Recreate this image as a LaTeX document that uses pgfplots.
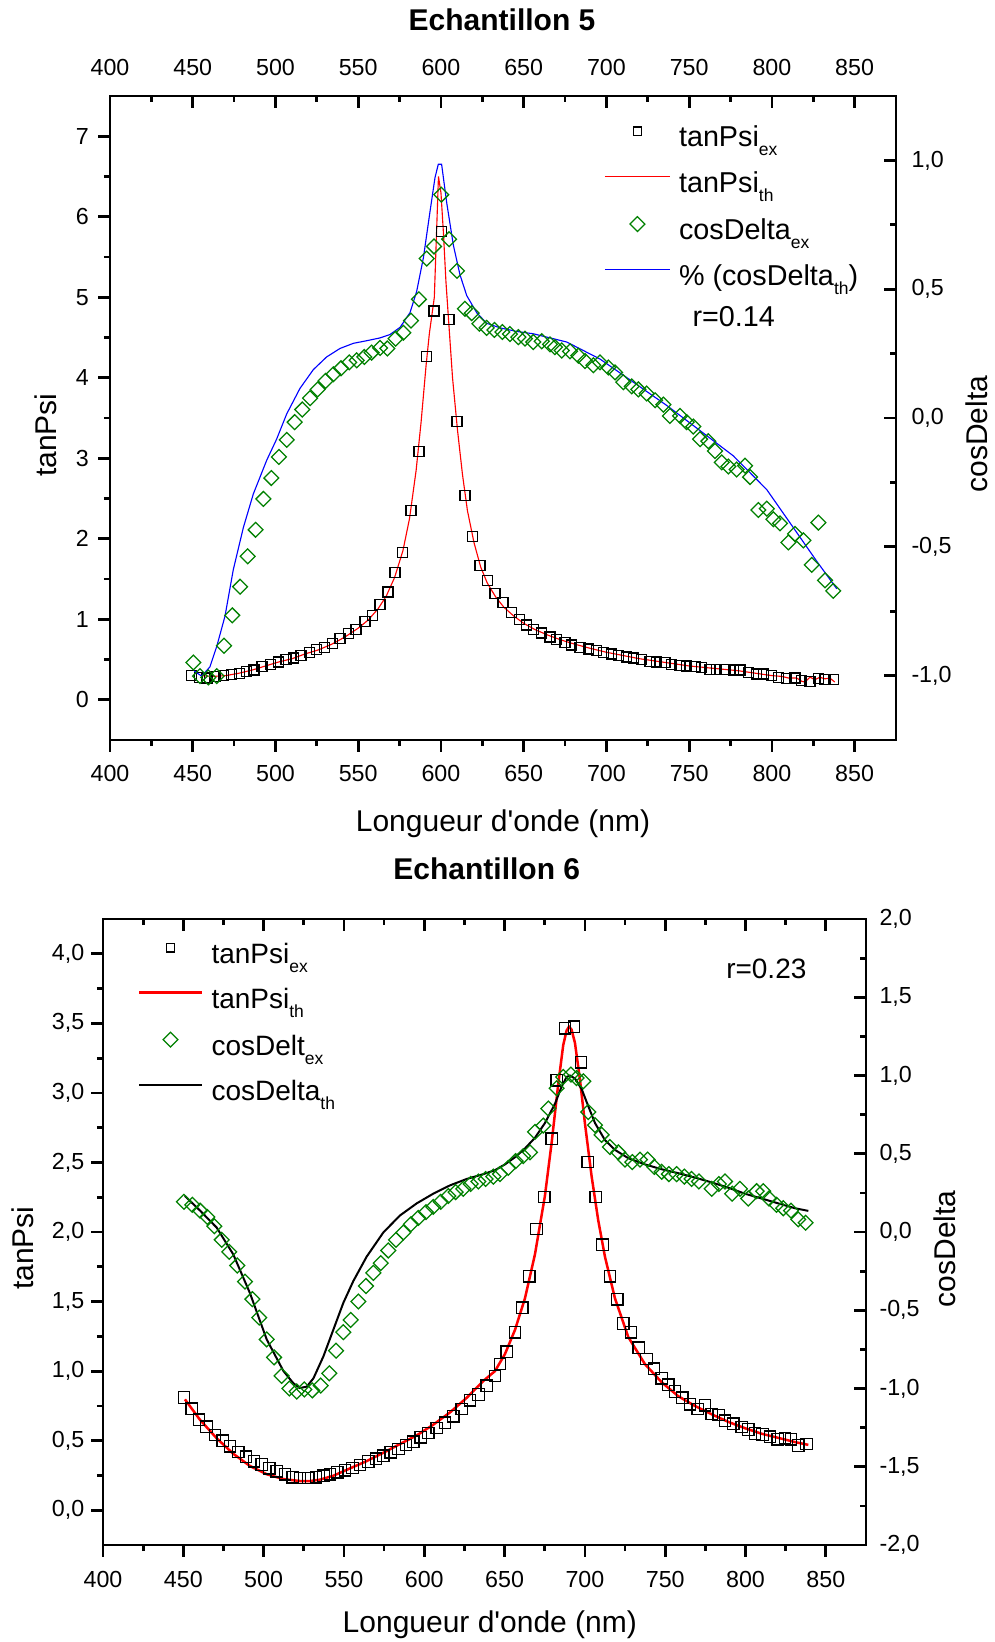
\documentclass[border=0pt]{standalone}
\usepackage{fontspec}
\setmainfont{Liberation Sans}[Ligatures=TeXOff]
\usepackage{pgfplots}
\pgfplotsset{compat=1.18}
\definecolor{dgreen}{RGB}{0,128,0}
\newcommand{\sbt}[1]{\raisebox{-3.5pt}{\fontsize{7}{8}\selectfont #1}}
\pgfplotsset{
  legline/.style={legend image code/.code={\draw[##1] (0pt,3.8pt) -- (#1,3.8pt);}},
  legmark/.style={legend image code/.code={\path[draw=none,fill=none] (0pt,3.8pt) -- (#1,3.8pt); \draw[##1,draw=none] plot[only marks] coordinates {(#1/2,3.8pt)};}},
  panel/.style={
    scale only axis, xmin=400, xmax=875,
    xtick={400,450,...,850}, minor x tick num=1,
    axis line style={line width=1.1pt, -},
    tick style={line width=1.1pt, black},
    major tick length=4.7pt, minor tick length=2.4pt,
    tick label style={font=\fontsize{9.3}{10}\selectfont, inner sep=0pt},
    label style={font=\fontsize{12}{14}\selectfont},
    /pgf/number format/assume math mode=true,
    scaled ticks=false,
  },
  sqst/.style={black, only marks, mark=square, mark size=2pt, mark options={line width=0.5pt, solid, draw=black}},
  dmst/.style={dgreen, only marks, mark=square, mark size=2.1pt, mark options={rotate=45, line width=0.5pt, solid, draw=dgreen}},
  commafmt/.style={/pgf/number format/.cd, use comma, fixed, fixed zerofill, precision=1},
}
\begin{document}
\begin{tikzpicture}
\useasboundingbox (0pt,0pt) rectangle (398pt,-656.8pt);
% ---------------- Panel 5 ----------------
\begin{axis}[panel, at={(44pt,-296pt)}, anchor=south west, width=314.4pt, height=257.6pt,
  ymin=-0.5, ymax=7.5, ytick={0,1,2,3,4,5,6,7}, minor y tick num=1,
  xtick pos=left, ytick pos=left, tick align=outside,
  xticklabel shift=5.3pt, yticklabel shift=3.6pt,
  xlabel={Longueur d'onde (nm)}, xlabel style={at={(axis description cs:0.5,-0.1413)}, anchor=base},
  ylabel={tanPsi}, ylabel style={at={(axis description cs:-0.0814,0.4736)}, anchor=center}]
\addplot[sqst] coordinates {(449.4,0.30)(454.0,0.28)(458.6,0.27)(463.5,0.29)(468.5,0.30)(473.5,0.31)(478.2,0.33)(482.6,0.35)(487.0,0.37)(491.9,0.41)(497.1,0.44)(501.9,0.47)(506.4,0.50)(510.8,0.52)(515.4,0.55)(520.5,0.59)(524.9,0.62)(529.5,0.65)(534.4,0.70)(539.0,0.76)(544.0,0.82)(548.7,0.87)(554.1,0.97)(558.7,1.05)(563.2,1.18)(568.0,1.34)(572.2,1.58)(576.9,1.83)(581.9,2.35)(586.7,3.08)(591.4,4.26)(595.8,4.83)(600.2,5.82)(604.9,4.72)(609.7,3.46)(614.5,2.54)(619.2,2.03)(623.6,1.67)(628.0,1.48)(632.7,1.32)(637.5,1.21)(642.5,1.08)(647.5,1.00)(651.5,0.93)(655.8,0.87)(660.9,0.83)(665.9,0.78)(670.0,0.75)(675.0,0.71)(679.0,0.68)(684.0,0.65)(689.1,0.63)(694.1,0.61)(698.1,0.59)(703.2,0.57)(707.2,0.55)(712.3,0.53)(716.3,0.52)(721.3,0.50)(726.3,0.48)(730.4,0.47)(735.4,0.46)(739.4,0.44)(744.5,0.43)(748.5,0.42)(753.5,0.41)(757.6,0.40)(762.6,0.38)(766.6,0.38)(771.7,0.38)(776.7,0.37)(780.7,0.37)(785.8,0.34)(790.8,0.32)(794.9,0.32)(799.9,0.30)(803.9,0.28)(809.0,0.26)(814.0,0.27)(818.0,0.24)(823.0,0.23)(828.1,0.26)(832.1,0.25)(837.1,0.25)};
\addplot[red, line width=0.45pt, no marks] coordinates {(455,0.30)(462,0.29)(470,0.30)(478,0.33)(486,0.37)(494,0.42)(502,0.47)(510,0.51)(518,0.57)(526,0.62)(534,0.69)(542,0.78)(550,0.89)(556,0.99)(562,1.13)(567,1.29)(572,1.52)(577,1.85)(581,2.25)(585,2.85)(588,3.45)(591,4.15)(593,4.55)(595,4.85)(596,5.0)(597,5.6)(598.5,6.5)(600,6.3)(601.5,5.8)(603,5.2)(605,4.6)(607,4.0)(610,3.35)(613,2.8)(616,2.35)(620,1.95)(624,1.65)(628,1.45)(633,1.28)(638,1.15)(644,1.04)(650,0.95)(657,0.87)(665,0.80)(673,0.74)(681,0.69)(690,0.64)(700,0.59)(710,0.55)(720,0.51)(730,0.48)(740,0.45)(750,0.42)(760,0.40)(770,0.38)(780,0.36)(790,0.33)(800,0.30)(806,0.29)(810,0.27)(815,0.27)(818,0.23)(820,0.22)(823,0.28)(826,0.25)(829,0.28)(832,0.26)(835,0.27)(838,0.22)};
\end{axis}
\begin{axis}[panel, at={(44pt,-296pt)}, anchor=south west, width=314.4pt, height=257.6pt,
  ymin=-1.25, ymax=1.25, ytick={-1,-0.5,0,0.5,1}, minor y tick num=1,
  xtick pos=right, xticklabel pos=right, ytick pos=right, yticklabel pos=right, tick align=inside,
  xticklabel shift=7.8pt, yticklabel shift=6pt,
  yticklabel style={commafmt},
  ylabel={cosDelta}, ylabel style={at={(axis description cs:1.1031,0.475)}, anchor=center},
  legend cell align=left,
  legend style={draw=none, fill=none, inner sep=0pt, outer sep=0pt, at={(0.629,0.954)}, anchor=north west,
    font=\fontsize{11.5}{13}\selectfont, row sep=6.2pt,
    nodes={inner sep=0pt, text height=8.5pt, text depth=3.5pt},
    /tikz/every odd column/.style={column sep=3.4pt}}]
\addlegendimage{sqst, mark size=1.7pt, legmark=26pt}
\addlegendentry{tanPsi\sbt{ex}}
\addlegendimage{red, line width=0.45pt, no marks, legline=26pt}
\addlegendentry{tanPsi\sbt{th}}
\addplot[dmst, legmark=26pt] coordinates {(450.4,-0.949)(454.4,-1.002)(459.4,-1.007)(464.5,-1.002)(468.9,-0.884)(473.9,-0.766)(478.6,-0.655)(483.2,-0.537)(488.0,-0.434)(492.7,-0.314)(497.5,-0.233)(502.1,-0.151)(506.8,-0.085)(511.6,-0.016)(516.2,0.033)(520.9,0.077)(525.5,0.111)(530.3,0.144)(535.0,0.170)(539.6,0.193)(544.6,0.216)(549.1,0.224)(553.7,0.237)(558.1,0.254)(563.2,0.272)(567.6,0.270)(572.6,0.308)(577.3,0.331)(581.9,0.378)(586.7,0.461)(591.4,0.619)(595.8,0.666)(600.2,0.867)(604.9,0.694)(609.7,0.571)(614.5,0.424)(618.6,0.407)(623.2,0.366)(627.6,0.350)(632.3,0.342)(637.1,0.334)(641.7,0.326)(646.8,0.314)(650.8,0.308)(655.8,0.295)(660.9,0.298)(665.9,0.286)(668.9,0.275)(673.0,0.262)(678.0,0.259)(683.0,0.242)(687.1,0.221)(692.1,0.205)(696.1,0.216)(701.2,0.196)(705.2,0.177)(710.2,0.139)(715.3,0.123)(719.3,0.111)(724.3,0.095)(729.4,0.069)(734.4,0.052)(738.4,0.008)(744.5,0.008)(748.5,-0.016)(752.5,-0.033)(756.6,-0.082)(761.6,-0.090)(765.6,-0.128)(769.7,-0.172)(773.7,-0.188)(778.7,-0.200)(783.8,-0.185)(786.8,-0.229)(791.8,-0.357)(796.9,-0.352)(800.9,-0.393)(804.9,-0.409)(810.0,-0.483)(814.0,-0.450)(819.0,-0.475)(824.1,-0.570)(828.1,-0.406)(832.1,-0.630)(837.1,-0.671)};
\addlegendentry{cosDelta\sbt{ex}}
\addplot[blue, line width=0.45pt, no marks, legline=26pt] coordinates {(450.9,-0.982)(455.4,-1.002)(460.4,-0.966)(464.5,-0.887)(469.5,-0.769)(474.5,-0.589)(480.6,-0.425)(486.6,-0.295)(494.7,-0.164)(500.7,-0.082)(506.8,0.016)(514.8,0.115)(522.9,0.188)(530.9,0.237)(539.0,0.270)(547.1,0.290)(555.1,0.300)(563.2,0.311)(569.2,0.324)(575.3,0.352)(581.3,0.409)(585.3,0.491)(589.4,0.622)(593.4,0.802)(596.4,0.933)(598.4,0.985)(600.4,0.985)(603.5,0.835)(607.5,0.671)(611.5,0.556)(615.6,0.475)(621.6,0.409)(627.6,0.368)(635.7,0.350)(645.8,0.336)(655.8,0.327)(676.0,0.295)(696.1,0.229)(716.3,0.139)(736.4,0.049)(756.6,-0.049)(776.7,-0.147)(796.9,-0.278)(813.0,-0.426)(827.1,-0.556)(839.2,-0.663)};
\addlegendentry{\% (cosDelta\sbt{th})}
\end{axis}
% ---------------- Panel 6 ----------------
\begin{axis}[panel, at={(41.2pt,-618pt)}, anchor=south west, width=305.2pt, height=250.4pt,
  ymin=-0.25, ymax=4.25, ytick={0,0.5,1,1.5,2,2.5,3,3.5,4}, minor y tick num=1,
  yticklabel style={commafmt},
  xtick pos=left, ytick pos=left, tick align=outside,
  xticklabel shift=5.7pt, yticklabel shift=2.6pt,
  xlabel={Longueur d'onde (nm)}, xlabel style={at={(axis description cs:0.507,-0.139)}, anchor=base},
  ylabel={tanPsi}, ylabel style={at={(axis description cs:-0.1048,0.4744)}, anchor=center}]
\addplot[sqst, mark size=2.3pt] coordinates {(450.4,0.81)(455.2,0.73)(459.8,0.65)(464.5,0.60)(469.7,0.54)(474.5,0.50)(479.1,0.46)(484.2,0.418)(489.0,0.385)(494.0,0.353)(498.8,0.329)(503.5,0.301)(508.1,0.280)(513.3,0.259)(518.1,0.238)(522.6,0.231)(527.8,0.231)(532.6,0.238)(537.2,0.248)(541.3,0.259)(545.9,0.273)(550.7,0.287)(555.4,0.304)(560.0,0.325)(565.2,0.350)(570.0,0.371)(574.5,0.392)(579.1,0.416)(583.9,0.441)(588.6,0.469)(593.2,0.493)(597.8,0.524)(602.5,0.556)(607.7,0.591)(612.9,0.629)(618.1,0.675)(623.3,0.727)(628.5,0.790)(633.7,0.832)(638.9,0.895)(644.0,0.965)(647.1,1.052)(651.3,1.140)(656.5,1.280)(661.0,1.455)(665.4,1.682)(669.9,2.021)(674.7,2.252)(679.3,2.671)(682.4,3.091)(687.6,3.465)(693.2,3.476)(697.5,3.220)(701.7,2.503)(706.7,2.252)(711.0,1.909)(715.6,1.682)(720.2,1.517)(723.9,1.343)(728.7,1.280)(733.6,1.168)(738.4,1.087)(743.0,1.017)(747.8,0.948)(751.9,0.902)(756.1,0.853)(760.6,0.808)(765.4,0.762)(770.2,0.727)(774.7,0.755)(778.9,0.692)(783.4,0.685)(787.2,0.643)(792.4,0.622)(797.6,0.598)(801.7,0.580)(805.9,0.552)(810.6,0.545)(815.2,0.528)(820.0,0.510)(824.5,0.517)(828.3,0.510)(832.8,0.465)(838.0,0.476)};
\addplot[red, line width=1pt, no marks] coordinates {(451.0,0.797)(460.4,0.650)(470.8,0.517)(481.1,0.406)(491.5,0.318)(501.9,0.259)(512.3,0.224)(522.6,0.210)(528.9,0.210)(535.1,0.220)(543.4,0.248)(553.8,0.301)(564.1,0.353)(574.5,0.413)(584.9,0.476)(595.3,0.538)(605.6,0.615)(616.0,0.703)(626.4,0.808)(636.8,0.930)(644.0,1.0)(650.2,1.122)(656.5,1.297)(662.7,1.524)(668.9,1.839)(675.1,2.259)(679.3,2.643)(683.4,3.063)(686.5,3.343)(688.6,3.448)(690.1,3.476)(691.7,3.455)(693.8,3.360)(696.9,3.098)(700.0,2.783)(704.2,2.399)(708.3,2.084)(712.5,1.822)(718.7,1.524)(727.0,1.245)(737.4,1.05)(747.8,0.92)(758.1,0.82)(768.5,0.75)(778.9,0.69)(789.3,0.635)(799.6,0.59)(810.0,0.55)(820.4,0.52)(830.8,0.49)(839.1,0.47)};
\end{axis}
\begin{axis}[panel, at={(41.2pt,-618pt)}, anchor=south west, width=305.2pt, height=250.4pt,
  ymin=-2, ymax=2, ytick={-2,-1.5,-1,-0.5,0,0.5,1,1.5,2}, minor y tick num=1,
  xtick pos=right, xticklabels={}, ytick pos=right, yticklabel pos=right, tick align=inside,
  yticklabel shift=5.2pt,
  yticklabel style={commafmt},
  ylabel={cosDelta}, ylabel style={at={(axis description cs:1.1035,0.473)}, anchor=center},
  legend cell align=left,
  legend style={draw=none, fill=none, inner sep=0pt, outer sep=0pt, at={(0.0459,0.963)}, anchor=north west,
    font=\fontsize{11.2}{13}\selectfont, row sep=6pt,
    nodes={inner sep=0pt, text height=8.5pt, text depth=3.5pt},
    /tikz/every odd column/.style={column sep=3.4pt}}]
\addlegendimage{sqst, mark size=1.7pt, legmark=25pt}
\addlegendentry{tanPsi\sbt{ex}}
\addlegendimage{red, line width=1pt, no marks, legline=25pt}
\addlegendentry{tanPsi\sbt{th}}
\addplot[dmst, legmark=25pt] coordinates {(450.4,0.193)(455.6,0.174)(460.4,0.137)(465.0,0.096)(469.3,0.037)(473.9,-0.050)(478.6,-0.127)(483.6,-0.214)(488.4,-0.317)(493.0,-0.429)(497.3,-0.547)(501.9,-0.686)(506.5,-0.801)(511.2,-0.919)(516.0,-1.000)(520.6,-1.019)(525.3,-1.006)(530.3,-1.012)(535.5,-0.981)(540.9,-0.903)(545.1,-0.758)(549.6,-0.640)(554.2,-0.562)(559.0,-0.444)(563.7,-0.345)(568.3,-0.261)(572.9,-0.199)(577.6,-0.118)(582.4,-0.050)(587.0,-0.003)(591.7,0.050)(596.3,0.090)(601.1,0.127)(605.6,0.161)(610.2,0.193)(615.0,0.230)(619.5,0.255)(624.3,0.276)(628.9,0.307)(633.7,0.323)(638.2,0.339)(643.0,0.354)(647.1,0.370)(652.3,0.410)(656.9,0.453)(661.6,0.485)(665.8,0.509)(668.9,0.640)(674.1,0.680)(677.2,0.789)(682.4,0.919)(686.5,0.991)(691.3,1.006)(694.8,0.984)(699.0,0.963)(702.1,0.767)(706.3,0.683)(710.4,0.621)(715.6,0.543)(720.8,0.509)(724.9,0.463)(729.5,0.447)(734.3,0.463)(739.0,0.463)(743.2,0.416)(747.8,0.385)(752.3,0.370)(757.1,0.370)(761.9,0.354)(766.4,0.339)(771.0,0.323)(778.9,0.276)(783.4,0.307)(787.2,0.323)(791.7,0.245)(796.5,0.276)(801.7,0.214)(806.9,0.261)(811.0,0.261)(814.6,0.214)(819.3,0.174)(823.5,0.152)(828.3,0.137)(832.8,0.081)(837.4,0.059)};
\addlegendentry{cosDelt\sbt{ex}}
\addplot[black, line width=0.8pt, no marks, legline=25pt] coordinates {(451.0,0.230)(460.4,0.137)(470.8,0.028)(481.1,-0.143)(491.5,-0.391)(501.9,-0.686)(512.3,-0.888)(518.5,-0.966)(522.6,-0.997)(526.8,-0.988)(531.0,-0.935)(537.2,-0.795)(543.4,-0.624)(549.6,-0.453)(555.8,-0.314)(564.1,-0.158)(574.5,-0.003)(584.9,0.106)(595.3,0.183)(605.6,0.245)(616.0,0.298)(626.4,0.339)(636.8,0.370)(644.0,0.395)(650.2,0.432)(656.5,0.478)(662.7,0.534)(668.9,0.602)(675.1,0.696)(681.4,0.820)(685.5,0.929)(688.6,0.991)(690.7,1.0)(693.8,0.981)(698.0,0.913)(702.1,0.804)(706.3,0.696)(712.5,0.587)(718.7,0.525)(727.0,0.472)(737.4,0.432)(747.8,0.401)(758.1,0.376)(768.5,0.348)(778.9,0.317)(789.3,0.283)(799.6,0.245)(810.0,0.214)(820.4,0.183)(830.8,0.152)(839.1,0.135)};
\addlegendentry{cosDelta\sbt{th}}
\end{axis}
% ---------------- Titles and notes ----------------
\node[anchor=base, font=\bfseries\fontsize{12}{14}\selectfont, inner sep=0pt] at (200.8pt,-12.3pt) {Echantillon 5};
\node[anchor=base, font=\bfseries\fontsize{12}{14}\selectfont, inner sep=0pt] at (194.7pt,-351.6pt) {Echantillon 6};
\node[anchor=base west, font=\fontsize{11.5}{13}\selectfont, inner sep=0pt] at (276.8pt,-130.6pt) {r=0.14};
\node[anchor=base west, font=\fontsize{11.2}{13}\selectfont, inner sep=0pt] at (290.3pt,-391.4pt) {r=0.23};
\end{tikzpicture}
\end{document}
